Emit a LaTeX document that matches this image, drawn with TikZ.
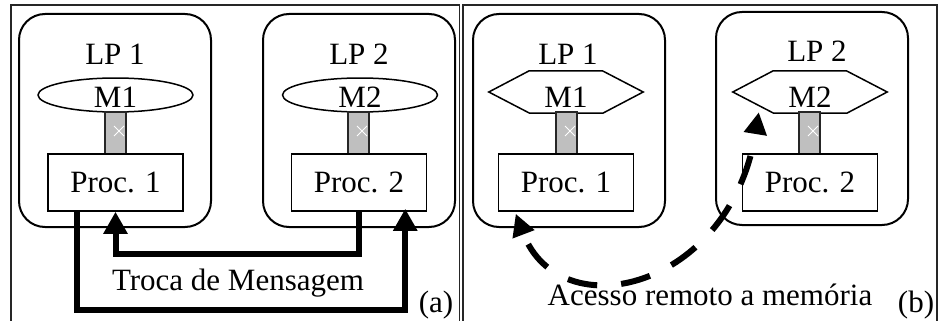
\documentclass[tikz,border=0pt]{standalone}
\usepackage{fontspec}
\setmainfont{Liberation Serif}
\usetikzlibrary{arrows.meta,calc,shapes.geometric}

\begin{document}
\begin{tikzpicture}[x=1pt,y=-1pt,font=\fontsize{31}{36}\selectfont,
  lpbox/.style={draw,line width=2pt,rounded corners=26pt,minimum width=192pt,minimum height=213pt},
  procbox/.style={draw,line width=1.5pt,minimum width=135pt,minimum height=57pt,inner sep=0pt},
  memellipse/.style={draw,ellipse,line width=1.5pt,minimum width=155pt,minimum height=34pt,inner sep=0pt,text height=24pt},
  memhex/.style={minimum width=154pt,minimum height=42pt,inner sep=0pt,text height=30pt},
  linkbox/.style={draw=black!85,line width=1.5pt,fill=black!25,minimum width=21pt,minimum height=42pt,inner sep=0pt},
  msgarrow/.style={line width=6pt,-{Triangle[width=23pt,length=22pt]}},
  memarrow/.style={line width=6pt,dash pattern=on 30pt off 24pt,dash phase=30pt,
    {Triangle[width=22pt,length=22pt]}-{Triangle[width=22pt,length=22pt]}}]
  \useasboundingbox (0,0) rectangle (942,321);
  %
  \draw[line width=1.5pt,black!85] (11,321) |- (459.5,5) -- (459.5,321);
  \draw[line width=1.5pt,black!85] (463,321) |- (937,5) -- (937,321);
  %
  % (a) troca de mensagem
  \node[lpbox] (lp1a) at (115,120.5) {};
  \node[lpbox] (lp2a) at (359,120.5) {};
  \node (t1a) at (115,54) {LP 1};
  \node (t2a) at (359,54) {LP 2};
  \node[memellipse] (m1a) at (115.5,95) {M1};
  \node[memellipse] (m2a) at (360,95) {M2};
  \node[linkbox] (g1a) at (115.5,133) {};
  \node[linkbox] (g2a) at (358.5,133) {};
  \node[procbox] (p1a) at (115.5,182.5) {Proc. 1};
  \node[procbox] (p2a) at (359,182.5) {Proc. 2};
  %
  \draw[msgarrow] (p2a.south) -- ++(0,42) -| (p1a.south);
  \draw[msgarrow] ($(p1a.south west)+(30,0)$) -- ++(0,98) -| ($(p2a.south east)+(-22,-3)$);
  \node (msga) at (238,283) {Troca de Mensagem};
  \node (taga) at (436,305) {(a)};
  %
  % (b) acesso remoto
  \node[lpbox] (lp1b) at (569,120.5) {};
  \node[lpbox] (lp2b) at (812,118.5) {};
  \node (t1b) at (568,54) {LP 1};
  \node (t2b) at (817,51) {LP 2};
  \node[memhex] (m1b) at (566,92) {M1};
  \node[memhex] (m2b) at (810,92) {M2};
  \foreach \m in {m1b,m2b}
    \draw[line width=1.5pt] (\m.west) -- ++(40,-21) -- ++(74,0) -- (\m.east)
      -- ++(-40,21) -- ++(-74,0) -- cycle;
  \node[linkbox] (g1b) at (566.5,133) {};
  \node[linkbox] (g2b) at (809.5,133) {};
  \node[procbox] (p1b) at (566,182.5) {Proc. 1};
  \node[procbox] (p2b) at (810,182.5) {Proc. 2};
  %
  \draw[memarrow] ($(m2b.south west)+(26,-1)$) .. controls (730,290) and (560,330)
    .. ($(p1b.south west)+(18,2)$);
  \node (msgb) at (710,295) {Acesso remoto a memória};
  \node (tagb) at (916,305) {(b)};
  %
  \foreach \g in {g1a,g2a,g1b,g2b} {
    \draw[white,line width=0.8pt] ($(\g)+(-1.5,-7)$) -- ++(10,10) ($(\g)+(-1.5,3)$) -- ++(10,-10);
    \draw[white!75!black,line width=0.6pt] ($(\g)+(-9.5,13)$) -- ++(19,0);
  }
\end{tikzpicture}
\end{document}
